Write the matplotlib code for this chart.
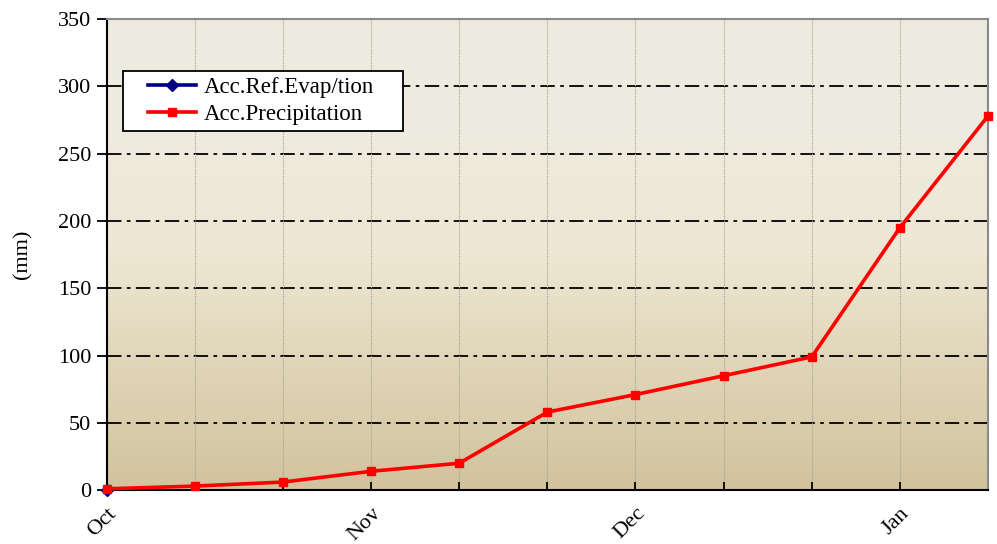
import numpy as np
import matplotlib
matplotlib.use("Agg")
import matplotlib.pyplot as plt
from matplotlib.colors import LinearSegmentedColormap
from matplotlib.patches import Rectangle

plt.rcParams['font.family'] = ['Liberation Serif', 'DejaVu Serif']

# accumulated values (mm), one point per tick
x_pos = np.arange(11)
precip = [1, 3, 6, 14, 20, 58, 71, 85, 99, 195, 278]
evap_x = [0]
evap = [0]
month_labels = {0: 'Oct', 3: 'Nov', 6: 'Dec', 9: 'Jan'}
y_ticks = [0, 50, 100, 150, 200, 250, 300, 350]

fig = plt.figure(figsize=(9.97, 5.44), dpi=100)
ax = fig.add_axes([0.107, 0.099, 0.884, 0.866])

# background gradient (light at top, tan at bottom)
cmap = LinearSegmentedColormap.from_list('bg', [
    (0.0, '#d1c39d'), (0.25, '#dfd4b6'), (0.5, '#ede7d3'),
    (0.75, '#eeebdf'), (1.0, '#edeae0')])
grad = np.linspace(0, 1, 256).reshape(-1, 1)
ax.imshow(grad, aspect='auto', cmap=cmap, origin='lower',
          extent=[0, 10, 0, 350], zorder=0)

ax.set_xlim(0, 10)
ax.set_ylim(0, 350)

# grids
for yy in y_ticks[1:-1]:
    ax.axhline(yy, color='black', lw=1.3, ls=(0, (8, 3, 2, 3)), zorder=1)
for xx in x_pos[1:-1]:
    ax.axvline(xx, color='#a8a294', lw=0.8, ls=(0, (1, 1)), zorder=1)

ax.plot(evap_x, evap, color='#000080', lw=2.6, marker='D', ms=6,
        label='Acc.Ref.Evap/tion', zorder=3, clip_on=False)
ax.plot(x_pos, precip, color='red', lw=2.6, marker='s', ms=6,
        label='Acc.Precipitation', zorder=4, clip_on=False)

ax.set_yticks(y_ticks)
ax.tick_params(axis='y', direction='out', length=7, width=1.3,
               labelsize=16, pad=4)
ax.set_xticks(x_pos)
ax.set_xticklabels([month_labels.get(i, '') for i in x_pos],
                   rotation=45, ha='right', va='top', fontsize=16,
                   rotation_mode='anchor')
ax.tick_params(axis='x', direction='in', length=6, width=1.3, pad=10)

for s in ['left', 'bottom']:
    ax.spines[s].set_linewidth(1.5)
    ax.spines[s].set_color('black')
for s in ['top', 'right']:
    ax.spines[s].set_linewidth(1.5)
    ax.spines[s].set_color('#8a8a8a')

ax.set_ylabel('(mm)', fontsize=16)
ax.yaxis.set_label_coords(-0.084, 0.5)

# legend box drawn separately so the padding matches
ax.add_patch(Rectangle((0.018, 0.762), 0.318, 0.128, transform=ax.transAxes,
                       facecolor='white', edgecolor='black', lw=1.3,
                       zorder=5))
leg = ax.legend(loc='upper left', bbox_to_anchor=(0.0465, 0.878),
                fontsize=16.5, frameon=False, borderpad=0,
                labelspacing=0.3, handlelength=2.1,
                handletextpad=0.35, borderaxespad=0)
leg.set_zorder(6)

fig.savefig('out.png', dpi=100)
